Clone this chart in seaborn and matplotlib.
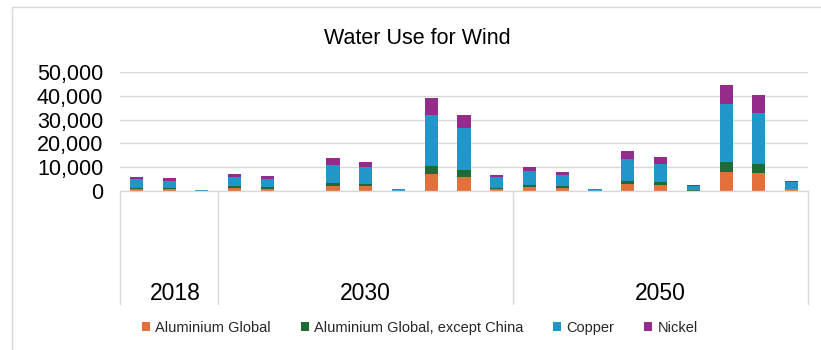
import matplotlib
matplotlib.use("Agg")
import matplotlib.pyplot as plt
import matplotlib.transforms as mtransforms
from matplotlib.lines import Line2D
from matplotlib.patches import Patch
import seaborn as sns
import pandas as pd
import numpy as np

# ---------------- data ----------------
years = ["2018", "2030", "2050"]
slots_per_year = [3, 9, 9]
series_names = ["Aluminium Global", "Aluminium Global, except China", "Copper", "Nickel"]
aluminium = [700, 840, 50, 1400, 980, 0, 2240, 1960, 50, 7000, 5870, 840,
             1680, 1400, 40, 2940, 2660, 150, 7970, 7410, 700]
alu_ex_china = [560, 420, 20, 560, 560, 0, 1260, 980, 30, 3640, 3080, 280,
                840, 700, 20, 1400, 1120, 130, 4340, 4060, 280]
copper = [3640, 2940, 200, 3780, 3500, 0, 7550, 7130, 800, 21100, 17340, 4620,
          5870, 4480, 700, 9230, 7690, 1680, 24200, 21260, 2660]
nickel = [980, 1120, 50, 1260, 1260, 0, 2660, 2240, 150, 7130, 5730, 1120,
          1540, 1400, 80, 3080, 2660, 420, 7830, 7410, 560]
colors = ["#E2703A", "#1F6B35", "#2196C9", "#952B8A"]

# ---------------- figure ----------------
sns.set_theme(style="white")
plt.rcParams["font.family"] = ["Liberation Sans", "DejaVu Sans"]

W, H = 821, 350
fig = plt.figure(figsize=(W / 100, H / 100), dpi=100)
ax = fig.add_axes([120 / W, (H - 191) / H, (808 - 120) / W, (191 - 72) / H])

slot_labels = [f"s{i}" for i in range(len(aluminium))]
df = pd.DataFrame({
    "slot": slot_labels,
    series_names[0]: aluminium,
    series_names[1]: alu_ex_china,
    series_names[2]: copper,
    series_names[3]: nickel,
})
cum = df[series_names].cumsum(axis=1)

# draw cumulative layers from top to bottom so they appear stacked
for k in range(len(series_names) - 1, -1, -1):
    d = pd.DataFrame({"slot": slot_labels, "val": cum[series_names[k]].values})
    sns.barplot(data=d, x="slot", y="val", order=slot_labels, color=colors[k],
                saturation=1, width=0.4, linewidth=0, errorbar=None, ax=ax)

ax.set_xlim(-0.5, len(slot_labels) - 0.5)
ax.set_ylim(0, 50000)
ax.set_yticks(np.arange(0, 50001, 10000))
ax.set_yticklabels([f"{v:,}" for v in range(0, 50001, 10000)], fontsize=15.5, color="#000000")
ax.set_xticks([])
ax.set_xlabel("")
ax.set_ylabel("")
ax.tick_params(axis="y", length=0, pad=12)
ax.yaxis.grid(True, color="#d9d9d9", lw=1)
ax.set_axisbelow(True)
for s in ["top", "right", "left"]:
    ax.spines[s].set_visible(False)
ax.spines["bottom"].set_color("#d9d9d9")
ax.spines["bottom"].set_linewidth(1)

# group separators and labels
trans = mtransforms.blended_transform_factory(ax.transData, ax.transAxes)
bounds = np.concatenate([[0], np.cumsum(slots_per_year)]) - 0.5
ybot = (191 - 304) / (191 - 72)
for b in bounds:
    ax.add_line(Line2D([b, b], [0, ybot], transform=trans, color="#d9d9d9",
                       lw=1, clip_on=False))
ylab = (191 - 294) / (191 - 72)
for i, yr in enumerate(years):
    c = (bounds[i] + bounds[i + 1]) / 2
    ax.text(c + (0.2 if i == 0 else 0), ylab, yr, transform=trans, ha="center", va="center",
            fontsize=16.5, color="#000000")

# title
fig.text(417 / W, 1 - 38 / H, "Water Use for Wind", ha="center", va="center",
         fontsize=15.5, color="#000000")

# legend
handles = [Patch(facecolor=c, edgecolor="none") for c in colors]
fig.legend(handles, series_names, loc="center", bbox_to_anchor=(420 / W, 1 - 328 / H),
           ncol=4, frameon=False, fontsize=10.5, handlelength=0.55, handleheight=0.55,
           handletextpad=0.35, columnspacing=2.05)

# partial frame (top & left)
fig.add_artist(Line2D([11.5 / W, 1], [1 - 7 / H, 1 - 7 / H], transform=fig.transFigure,
                      color="#d9d9d9", lw=1))
fig.add_artist(Line2D([11.5 / W, 11.5 / W], [1 - 7 / H, 0], transform=fig.transFigure,
                      color="#d9d9d9", lw=1))

fig.savefig("out.png", dpi=100)
